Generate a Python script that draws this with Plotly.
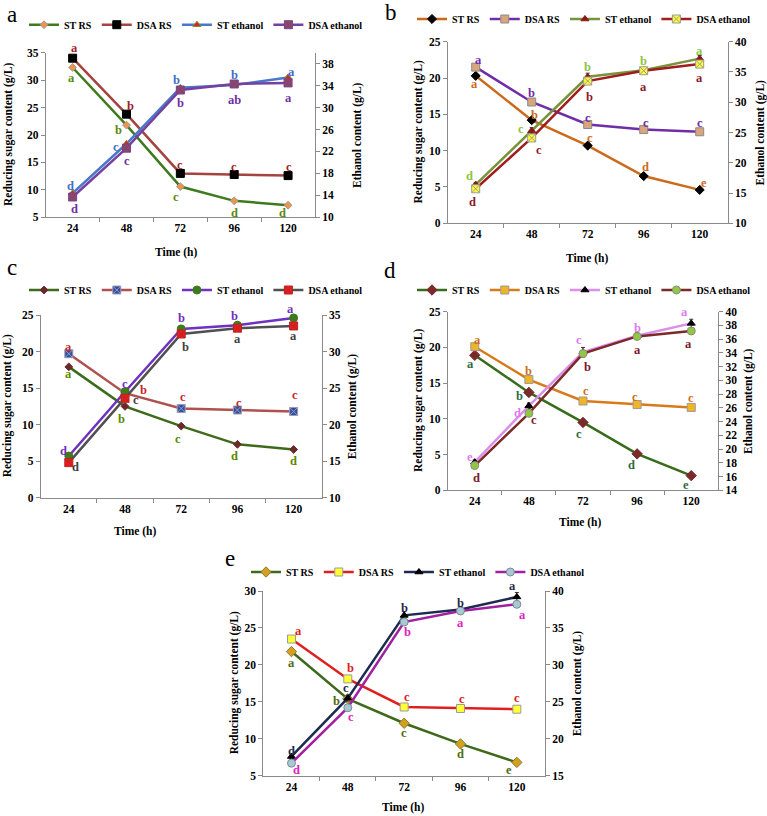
import plotly.graph_objects as go

# ---------------- DATA ----------------
TIME = [24, 48, 72, 96, 120]
TIME_LABELS = ["24", "48", "72", "96", "120"]
NAMES = ["ST RS", "DSA RS", "ST ethanol", "DSA ethanol"]

# panel a
A_ST_RS = [32.3, 21.8, 10.6, 8.0, 7.2]
A_DSA_RS = [34.0, 23.8, 13.0, 12.8, 12.6]
A_ST_ETH = [14.4, 23.4, 33.6, 34.1, 35.5]
A_DSA_ETH = [13.7, 22.6, 33.2, 34.3, 34.5]
A_ST_RS_LET = ["a", "b", "c", "d", "d"]
A_DSA_RS_LET = ["a", "b", "c", "c", "c"]
A_ST_ETH_LET = ["d", "c", "b", "b", "a"]
A_DSA_ETH_LET = ["d", "c", "b", "ab", "a"]

# panel b
B_ST_RS = [20.3, 14.2, 10.7, 6.5, 4.6]
B_DSA_RS = [21.5, 16.7, 13.6, 12.9, 12.6]
B_ST_ETH = [16.4, 25.3, 34.2, 35.3, 37.2]
B_DSA_ETH = [15.7, 24.1, 33.5, 35.2, 36.3]
B_ST_ETH_ERR = [0.3, 0.5, 0.6, 0.4, 0.5]
B_ST_RS_LET = ["a", "b", "c", "d", "e"]
B_DSA_RS_LET = ["a", "b", "c", "c", "c"]
B_ST_ETH_LET = ["d", "c", "b", "b", "a"]
B_DSA_ETH_LET = ["d", "c", "b", "a", "a"]

# panel c
C_ST_RS = [17.9, 12.5, 9.8, 7.3, 6.6]
C_DSA_RS = [19.7, 14.3, 12.2, 12.0, 11.8]
C_ST_ETH = [15.7, 24.5, 33.1, 33.6, 34.6]
C_DSA_ETH = [14.8, 23.6, 32.4, 33.2, 33.5]
C_ST_ETH_ERR = [0.2, 0.3, 0.4, 0.4, 0.3]
C_ST_RS_LET = ["a", "b", "c", "d", "d"]
C_DSA_RS_LET = ["a", "b", "c", "c", "c"]
C_ST_ETH_LET = ["d", "c", "b", "b", "a"]
C_DSA_ETH_LET = ["d", "c", "b", "a", "a"]

# panel d
D_ST_RS = [18.9, 13.7, 9.5, 5.1, 2.05]
D_DSA_RS = [20.1, 15.5, 12.5, 12.0, 11.6]
D_ST_ETH = [18.1, 26.3, 34.1, 36.5, 38.3]
D_DSA_ETH = [17.6, 25.2, 33.9, 36.4, 37.2]
D_ST_ETH_ERR = [0.3, 0.4, 0.7, 0.5, 0.6]
D_ST_RS_LET = ["a", "b", "c", "d", "e"]
D_DSA_RS_LET = ["a", "b", "c", "c", "c"]
D_ST_ETH_LET = ["e", "d", "c", "b", "a"]
D_DSA_ETH_LET = ["d", "c", "b", "a", "a"]

# panel e
E_ST_RS = [21.8, 15.4, 12.1, 9.3, 6.8]
E_DSA_RS = [23.5, 18.1, 14.3, 14.1, 14.0]
E_ST_ETH = [17.6, 25.5, 36.7, 37.5, 39.2]
E_DSA_ETH = [16.7, 24.2, 35.8, 37.3, 38.2]
E_ST_ETH_ERR = [0.3, 0.4, 0.5, 0.4, 0.6]
E_ST_RS_LET = ["a", "b", "c", "d", "e"]
E_DSA_RS_LET = ["a", "b", "c", "c", "c"]
E_ST_ETH_LET = ["d", "c", "b", "b", "a"]
E_DSA_ETH_LET = ["d", "c", "b", "a", "a"]

# ---------------- LAYOUT / STYLE ----------------
W, H = 767, 816
FONT = "Liberation Serif"
AXC = "#8a8a8a"


def px2x(px):
    return px / W


def px2y(py):
    return 1 - py / H


# plot-area boxes in window pixels (left, right, top, bottom)
BOXES = {
    "a": (45.7, 315.0, 52.7, 217.3),
    "b": (447.7, 727.7, 41.7, 223.3),
    "c": (40.7, 321.7, 315.0, 497.7),
    "d": (447.7, 718.3, 311.7, 490.3),
    "e": (263.3, 545.0, 591.0, 775.7),
}

PANELS = [
    dict(key="a", left=(5, 35, 5), right=(10, 40, 4),
         data=[A_ST_RS, A_DSA_RS, A_ST_ETH, A_DSA_ETH],
         letters=[A_ST_RS_LET, A_DSA_RS_LET, A_ST_ETH_LET, A_DSA_ETH_LET],
         err=[None, None, None, None],
         line=["#3f7a1e", "#a4433f", "#4a78c8", "#7440a2"],
         msym=["diamond", "square", "triangle-up", "square-x"],
         mcol=["#f0944a", "#000000", "#d0282a", "#8e4a5b"],
         mline=["#9a9a9a", "#000000", "#8a8a20", "#7a3f90"],
         msize=[6, 8, 7, 8],
         lcol=["#5a8a10", "#a01f2a", "#3a6fc9", "#7030a0"],
         offs=[[(-1, -10), (-8, -5), (-4, -10), (0, -12), (-6, -8)],
               [(2, 10), (4, 8), (0, 8), (0, 8), (1, 9)],
               [(-2, 7), (-10, -3), (-4, 8), (0, 10), (3, 5)],
               [(2, -12), (1, -13), (0, -13), (0, -16), (0, -15)]],
         legend=(24, 24.7), letter=(12, 14),
         ltitle=9, rtitle=358, ttitle=(176, 252)),
    dict(key="b", left=(0, 25, 5), right=(10, 40, 5),
         data=[B_ST_RS, B_DSA_RS, B_ST_ETH, B_DSA_ETH],
         letters=[B_ST_RS_LET, B_DSA_RS_LET, B_ST_ETH_LET, B_DSA_ETH_LET],
         err=[None, None, B_ST_ETH_ERR, None],
         line=["#cc6a1c", "#6f2da8", "#77933c", "#a01d1d"],
         msym=["diamond", "square", "triangle-up", "square-x"],
         mcol=["#000000", "#d9a57a", "#8b1a1a", "#ffff33"],
         mline=["#000000", "#8a8a8a", "#8b1a1a", "#9a9a9a"],
         msize=[7, 8, 7, 8],
         lcol=["#cc6a1c", "#6f2da8", "#8cc63f", "#8b1a2a"],
         offs=[[(-1, -8), (3, 5), (2, 8), (2, 9), (4, 7)],
               [(3, 7), (0, 9), (0, 7), (2, 7), (0, 9)],
               [(-6, 9), (-11, 2), (0, 10), (0, 9), (0, 8)],
               [(-3, -13), (7, -12), (2, -16), (0, -16), (0, -14)]],
         legend=(412, 19), letter=(391, 13),
         ltitle=418, rtitle=760, ttitle=(587, 258)),
    dict(key="c", left=(0, 25, 5), right=(10, 35, 5),
         data=[C_ST_RS, C_DSA_RS, C_ST_ETH, C_DSA_ETH],
         letters=[C_ST_RS_LET, C_DSA_RS_LET, C_ST_ETH_LET, C_DSA_ETH_LET],
         err=[None, None, C_ST_ETH_ERR, None],
         line=["#3e6b1b", "#b0504f", "#7030c0", "#505050"],
         msym=["diamond", "square-x", "circle", "square-x"],
         mcol=["#6b2a2a", "#3050a0", "#3e7b1f", "#e02020"],
         mline=["#6b2a2a", "#9a9aba", "#3e7b1f", "#c02020"],
         msize=[6, 8, 8, 8],
         lcol=["#5a8a00", "#c8282d", "#7030c0", "#404040"],
         offs=[[(0, -7), (-4, -13), (-3, -13), (-3, -12), (0, -12)],
               [(0, 7), (18, 3), (2, 12), (2, 7), (1, 16)],
               [(-5, 5), (0, 8), (0, 11), (-3, 9), (-3, 9)],
               [(7, -4), (11, -2), (4, -13), (0, -11), (0, -10)]],
         legend=(24, 290), letter=(12, 268),
         ltitle=7, rtitle=352, ttitle=(135, 531)),
    dict(key="d", left=(0, 25, 5), right=(14, 40, 2),
         data=[D_ST_RS, D_DSA_RS, D_ST_ETH, D_DSA_ETH],
         letters=[D_ST_RS_LET, D_DSA_RS_LET, D_ST_ETH_LET, D_DSA_ETH_LET],
         err=[None, None, D_ST_ETH_ERR, None],
         line=["#386b1a", "#d87a1a", "#da8fe8", "#7b2a2a"],
         msym=["diamond", "square", "triangle-up", "circle"],
         mcol=["#7b2a2a", "#f0b428", "#000000", "#92c840"],
         mline=["#7b2a2a", "#9a9a9a", "#000000", "#8a8a8a"],
         msize=[8, 8, 7, 8],
         lcol=["#2f6b3f", "#d0701a", "#e07bef", "#7b1a2a"],
         offs=[[(-4, -9), (-9, -4), (-4, -12), (-6, -11), (-5, -9)],
               [(3, 7), (0, 9), (3, 10), (-2, 8), (0, 9)],
               [(-5, 5), (-11, -7), (-4, 12), (0, 8), (-7, 11)],
               [(2, -12), (5, -7), (4, -13), (0, -14), (-3, -13)]],
         legend=(412, 290), letter=(390, 271),
         ltitle=418, rtitle=748, ttitle=(580, 522)),
    dict(key="e", left=(5, 30, 5), right=(15, 40, 5),
         data=[E_ST_RS, E_DSA_RS, E_ST_ETH, E_DSA_ETH],
         letters=[E_ST_RS_LET, E_DSA_RS_LET, E_ST_ETH_LET, E_DSA_ETH_LET],
         err=[None, None, E_ST_ETH_ERR, None],
         line=["#3e6b1b", "#e02020", "#1f2a50", "#a020a0"],
         msym=["diamond", "square", "triangle-up", "circle"],
         mcol=["#d4a020", "#ffff33", "#000000", "#a8c8d8"],
         mline=["#8a7a30", "#9a9a9a", "#000000", "#7a8a90"],
         msize=[8, 8, 7, 8],
         lcol=["#4f6b10", "#e02020", "#1f2a50", "#e020c0"],
         offs=[[(0, -11), (-11, -2), (0, -10), (0, -10), (-8, -8)],
               [(7, 8), (3, 11), (3, 10), (2, 9), (0, 11)],
               [(0, 5), (-2, 10), (0, 7), (0, 6), (-4, 11)],
               [(5, -7), (3, -9), (3, -10), (0, -12), (6, -11)]],
         legend=(246, 572), letter=(230, 558),
         ltitle=234, rtitle=577, ttitle=(403, 807)),
]

fig = go.Figure()
layout = dict(
    width=W, height=H, margin=dict(l=0, r=0, t=0, b=0, autoexpand=False),
    paper_bgcolor="white", plot_bgcolor="white",
    font=dict(family=FONT, size=11, color="black"),
    showlegend=True,
)
annotations = []

tickfont = dict(family=FONT, size=11.5, color="black", weight="bold")

for i, p in enumerate(PANELS):
    n = i + 1
    xs = "" if n == 1 else str(n)
    yl = str(2 * n - 1) if n > 1 else ""
    yr = str(2 * n)
    xname, ylname, yrname = "xaxis" + xs, "yaxis" + yl, "yaxis" + yr
    xref, ylref, yrref = "x" + xs, "y" + yl, "y" + yr
    L, R, T, B = BOXES[p["key"]]
    xdom = [px2x(L), px2x(R)]
    ydom = [px2y(B), px2y(T)]
    layout[xname] = dict(
        domain=xdom, anchor=ylref, range=[12, 132],
        tickmode="array", tickvals=TIME, ticktext=TIME_LABELS,
        ticks="", showline=True, linecolor=AXC, linewidth=1,
        showgrid=False, zeroline=False, tickfont=tickfont,
        minor=dict(tickmode="array", tickvals=[36, 60, 84, 108],
                   ticks="outside", ticklen=4, tickcolor=AXC, showgrid=False),
    )
    lo, hi, dt = p["left"]
    layout[ylname] = dict(
        domain=ydom, anchor=xref, range=[lo, hi], tick0=lo, dtick=dt,
        ticks="outside", ticklen=4, tickcolor=AXC, showline=True,
        linecolor=AXC, linewidth=1, showgrid=False, zeroline=False,
        tickfont=tickfont,
    )
    lo2, hi2, dt2 = p["right"]
    layout[yrname] = dict(
        domain=ydom, anchor=xref, overlaying=ylref, side="right",
        range=[lo2, hi2], tick0=lo2, dtick=dt2,
        ticks="outside", ticklen=4, tickcolor=AXC, showline=True,
        linecolor=AXC, linewidth=1, showgrid=False, zeroline=False,
        tickfont=tickfont,
    )
    legname = "legend" + ("" if n == 1 else str(n))
    lx, ly = p["legend"]
    layout[legname] = dict(
        orientation="h", x=px2x(lx), y=px2y(ly), xanchor="left",
        yanchor="middle", bgcolor="rgba(0,0,0,0)",
        font=dict(family=FONT, size=10, color="black", weight="bold"),
        itemwidth=30, tracegroupgap=0,
    )
    for s in range(4):
        yref_s = ylref if s < 2 else yrref
        err = p["err"][s]
        trace = go.Scatter(
            x=TIME, y=p["data"][s], name=NAMES[s], mode="lines+markers",
            xaxis=xref, yaxis=yref_s, legend=legname,
            line=dict(color=p["line"][s], width=2.5),
            marker=dict(symbol=p["msym"][s], color=p["mcol"][s],
                        size=p["msize"][s],
                        line=dict(color=p["mline"][s], width=1)),
            cliponaxis=False,
        )
        if err is not None:
            trace.error_y = dict(type="data", array=err, visible=True,
                                 color="#333333", thickness=1, width=2)
        fig.add_trace(trace)
        for j, (t, v, let) in enumerate(zip(TIME, p["data"][s], p["letters"][s])):
            dx, dy = p["offs"][s][j]
            annotations.append(dict(
                x=t, y=v, xref=xref, yref=yref_s, text=let, showarrow=False,
                xshift=dx, yshift=dy, xanchor="center", yanchor="middle",
                font=dict(family=FONT, size=12.5, color=p["lcol"][s],
                          weight="bold"),
            ))
    # panel letter
    plx, ply = p["letter"]
    annotations.append(dict(
        x=px2x(plx), y=px2y(ply), xref="paper", yref="paper",
        text=p["key"], showarrow=False, xanchor="center", yanchor="middle",
        font=dict(family=FONT, size=23, color="black"),
    ))
    # axis titles
    midy = px2y((T + B) / 2)
    annotations.append(dict(
        x=px2x(p["ltitle"]), y=midy, xref="paper", yref="paper",
        text="Reducing sugar content (g/L)", textangle=-90, showarrow=False,
        xanchor="center", yanchor="middle",
        font=dict(family=FONT, size=11.5, color="black", weight="bold"),
    ))
    annotations.append(dict(
        x=px2x(p["rtitle"]), y=midy, xref="paper", yref="paper",
        text="Ethanol content (g/L)", textangle=-90, showarrow=False,
        xanchor="center", yanchor="middle",
        font=dict(family=FONT, size=11.5, color="black", weight="bold"),
    ))
    ttx, tty = p["ttitle"]
    annotations.append(dict(
        x=px2x(ttx), y=px2y(tty), xref="paper", yref="paper",
        text="Time (h)", showarrow=False, xanchor="center", yanchor="middle",
        font=dict(family=FONT, size=11.5, color="black", weight="bold"),
    ))

layout["annotations"] = annotations
fig.update_layout(**layout)
# remove the browser's default 8px page margin so the figure fills the window
fig.write_html(
    "out.html",
    config={"displayModeBar": False},
    post_script="document.body.style.margin='0';"
                "document.body.style.overflow='hidden';",
)
